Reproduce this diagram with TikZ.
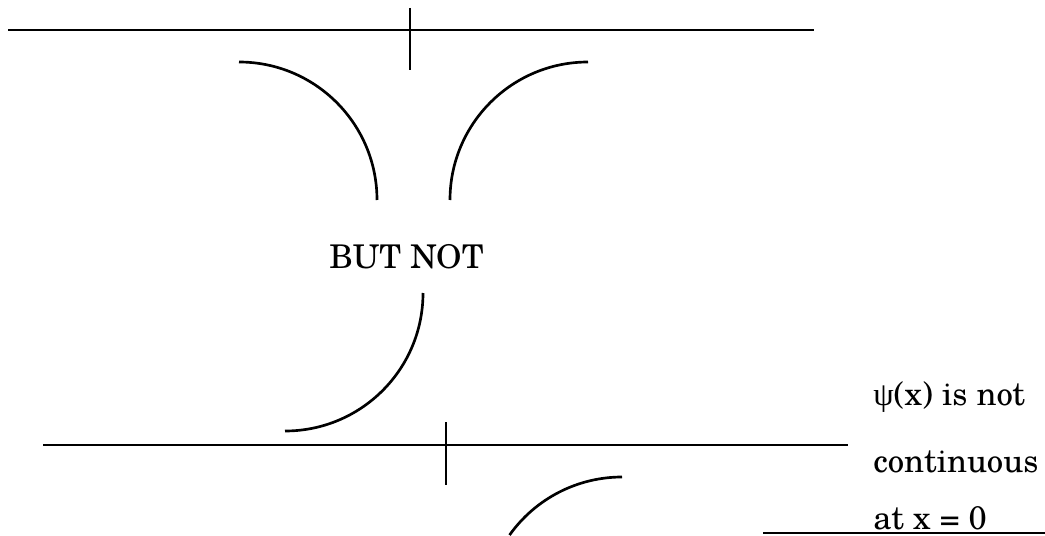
\documentclass[tikz,border=0pt]{standalone}
\usepackage{fontspec}
\setmainfont{TeX Gyre Schola}
\newfontfamily\grk{Liberation Serif}
\tikzset{
  ln/.style={line width=1.5pt, line cap=butt},
  crv/.style={line width=2pt, line cap=butt},
  lbl/.style={anchor=base west, inner sep=0pt, font=\fontsize{24.5}{30}\selectfont}
}
\begin{document}
\begin{tikzpicture}[x=0.75pt, y=-0.75pt]
\useasboundingbox (0,0) rectangle (1045,535);
% top axis
\draw[ln] (8,30) -- (814,30);
\draw[ln] (410,8) -- (410,70);
% top arcs
\draw[crv] (239,62) arc[start angle=-90, end angle=0, radius=138];
\draw[crv] (588,62) arc[start angle=-90, end angle=-180, radius=138];
% label
\node[lbl] (but) at (329,268) {BUT NOT};
% middle arc
\draw[crv] (423,293) arc[start angle=0, end angle=90, radius=138];
% bottom axis
\draw[ln] (43,445) -- (848,445);
\draw[ln] (446,422) -- (446,485);
% bottom arc
\draw[crv] (622,477) arc[start angle=-90, end angle=-144.6, radius=138];
% right text
\node[lbl] (l1) at (873,405) {{\grk ψ}(x) is not};
\node[lbl] (l2) at (873,472) {continuous};
\node[lbl] (l3) at (873,529) {at x = 0};
\draw[ln] (763,533) -- (1045,533);
\end{tikzpicture}
\end{document}
